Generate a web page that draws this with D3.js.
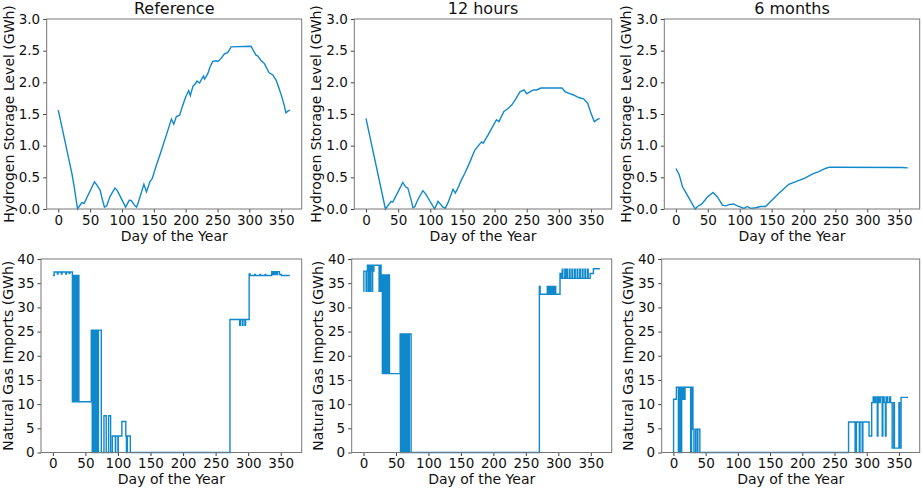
<!DOCTYPE html>
<html lang="en">
<head>
  <meta charset="UTF-8">
  <title>Hydrogen storage and natural gas imports</title>
  <script src="https://d3js.org/d3.v7.min.js"></script>
  <style>
    body { margin: 0; background: #fff; }
    svg { display: block; font-family: "DejaVu Sans", sans-serif; }
    .tick text { font-family: "DejaVu Sans", sans-serif; font-size: 13.5px; fill: #111; }
    .tick line { stroke: #444; }
    .domain { display: none; }
    .frame { fill: none; stroke: #777; stroke-width: 1; }
    .series { fill: none; stroke: #1088cc; stroke-width: 1.4; }
    .lbl { font-size: 14px; fill: #111; }
    .ttl { font-size: 16px; fill: #111; }
  </style>
</head>
<body>
<div id="chart"></div>
<script>
  let width = 923;
  let height = 489;

  let titles = ["Reference", "12 hours", "6 months"];
  let xTicks = [0, 50, 100, 150, 200, 250, 300, 350];
  let h2Ticks = [0, 0.5, 1, 1.5, 2, 2.5, 3];
  let gasTicks = [0, 5, 10, 15, 20, 25, 30, 35, 40];

  // hydrogen storage level (GWh) by day
  let refH2Days = [0, 13.5, 21.4, 25, 30.2, 37, 40.6, 56.8, 60.4, 65.6, 68.2, 72.4, 76, 81.3, 89, 92.7, 105.7, 111.5, 115, 120.3, 123,
    125.5, 134.4, 138.5, 143.8, 147.4, 154, 159.4, 169.8, 177.6, 181.3, 185.4, 190.6, 194.8, 200, 204.7, 207.3, 211.5, 215.6, 217.7,
    221.9, 224.5, 228, 229.7, 234.9, 238.5, 242.7, 247.9, 250.5, 255.7, 261, 266, 271.4, 302.6, 310.4, 313, 318, 323.4, 331, 336.5,
    341.7, 345.8, 351, 354.7, 357.3, 361, 363.5];
  let refH2Vals = [1.56, 0.93, 0.56, 0.35, 0, 0.1, 0.09, 0.43, 0.38, 0.3, 0.19, 0.03, 0.05, 0.2, 0.33, 0.29, 0.03, 0.14, 0.13, 0.05, 0.03,
    0.1, 0.39, 0.27, 0.43, 0.48, 0.69, 0.85, 1.17, 1.42, 1.34, 1.46, 1.48, 1.62, 1.77, 1.87, 1.79, 1.94, 1.98, 2.02,
    1.99, 2.04, 2.1, 2.05, 2.14, 2.25, 2.33, 2.34, 2.33, 2.38, 2.45, 2.47, 2.56, 2.57, 2.43, 2.42, 2.35, 2.3, 2.15, 2.12,
    2.04, 1.93, 1.77, 1.64, 1.52, 1.55, 1.56];

  let h12H2Days = [0, 30.2, 33.9, 39, 41.7, 57.3, 61.5, 65.1, 70.3, 72.9, 76, 80.7, 88.5, 92.7, 106.8, 112, 114.6, 119.8, 123.4, 127.6,
    135.4, 139, 144.3, 148.4, 153.6, 161.5, 169.3, 179.7, 182.3, 190, 195.3, 203, 206.8, 214.6, 221.4, 226.6, 231.8, 239.6, 245.8,
    250, 256.8, 260.4, 265.6, 271.9, 304.7, 310, 315, 323, 330.7, 338.5, 344.8, 350, 355.2, 359.4, 363.5];
  let h12H2Vals = [1.43, 0, 0.05, 0.12, 0.11, 0.42, 0.35, 0.33, 0.14, 0.02, 0.04, 0.15, 0.29, 0.24, 0, 0.12, 0.09, 0.03, 0.01, 0.1,
    0.31, 0.25, 0.36, 0.46, 0.56, 0.74, 0.93, 1.06, 1.04, 1.17, 1.27, 1.41, 1.38, 1.54, 1.59, 1.64, 1.72, 1.85, 1.88,
    1.82, 1.86, 1.88, 1.88, 1.91, 1.91, 1.85, 1.83, 1.8, 1.76, 1.74, 1.67, 1.51, 1.38, 1.41, 1.43];

  let m6H2Days = [0, 5.2, 10.4, 15.6, 23.4, 30.2, 33.9, 40.6, 49.5, 58.3, 65.1, 72.9, 78.1, 83.3, 90.1, 96.4, 106.8, 112, 117.2, 125,
    132.8, 140.6, 148.4, 161.5, 177, 184.9, 195.3, 203, 213.5, 224, 234.4, 240.6, 354, 363.5];
  let m6H2Vals = [0.64, 0.54, 0.35, 0.26, 0.12, 0, 0.04, 0.08, 0.19, 0.26, 0.19, 0.06, 0.05, 0.07, 0.08, 0.05, 0.01, 0.04, 0.01, 0.02,
    0.04, 0.04, 0.12, 0.25, 0.39, 0.42, 0.46, 0.49, 0.55, 0.59, 0.64, 0.66, 0.655, 0.65];

  // natural gas imports (GWh), each value holds until the next day listed
  let refGasDays = [0, 2, 7, 8, 13, 14, 20, 21, 25, 26, 30, 31, 33, 35, 37, 38, 40,
    59, 60.5, 62, 63, 65, 66, 67.5, 69, 70, 74.4,
    78.5, 82, 85.6, 88.7, 91.3, 96, 96.5, 100, 100.5, 106, 112, 113, 114.4, 119,
    272, 287, 288, 291, 292, 295, 296, 301.5, 303, 310, 311, 318, 319, 326, 327,
    336, 338, 339, 341, 342, 344, 345, 348, 351, 364];
  let refGasVals = [36.6, 37.3, 36.9, 37.3, 36.9, 37.3, 36.9, 37.3, 37.0, 37.3, 10.5, 36.6, 10.5, 36.6, 10.5, 36.6, 10.5,
    25.3, 0, 25.3, 0, 25.3, 0, 25.3, 0, 25.3, 0,
    7.6, 0, 7.6, 0, 3.4, 0, 3.4, 0, 3.4, 6.4, 3.4, 0, 3.4, 0,
    27.5, 26.3, 27.5, 26.3, 27.5, 26.3, 27.5, 36.9, 36.6, 36.8, 36.6, 36.8, 36.6, 36.8, 36.6,
    37.4, 36.8, 37.4, 36.8, 37.4, 36.8, 37.4, 36.8, 36.6, 36.6];

  let h12GasDays = [0, 0.5, 4, 4.5, 6, 7, 8, 10, 10.5, 12, 13, 14, 15, 16, 24, 25, 27, 28, 29, 30, 31, 32, 33, 35, 36, 37, 38, 39, 40,
    56.4, 57, 58, 59, 60, 61, 62, 63, 64, 65, 66, 67, 68, 70, 70.5, 73.3,
    270.8, 272, 283, 284, 286, 287, 289, 290, 292, 293, 295, 296,
    302.6, 304, 306, 307, 310, 311, 313, 314, 317, 318, 321, 322, 325, 326, 329, 330, 333, 334, 337, 338, 341, 342, 345, 346,
    349, 354, 364];
  let h12GasVals = [33.3, 37.5, 33.3, 37.5, 38.7, 33.3, 38.7, 33.3, 37.5, 38.7, 33.3, 38.7, 37.5, 38.7, 33.3, 38.7, 33.3, 36.7, 16.3, 36.7, 16.3, 36.7, 16.3, 36.7, 16.3, 36.7, 16.3, 36.7, 16.3,
    24.5, 0, 24.5, 0, 24.5, 0, 24.5, 0, 24.5, 0, 24.5, 0, 24.5, 0, 24.5, 0,
    34.3, 32.7, 34.3, 32.7, 34.3, 32.7, 34.3, 32.7, 34.3, 32.7, 34.3, 32.7,
    37.0, 36.0, 37.9, 36.0, 37.9, 36.0, 37.9, 36.0, 37.9, 36.0, 37.9, 36.0, 37.9, 36.0, 37.9, 36.0, 37.9, 36.0, 37.9, 36.0, 37.9, 36.0, 37.9, 36.0,
    37.0, 38.0, 38.0];

  let m6GasDays = [0, 0.2, 4.6, 7.7, 9.7, 11.3, 12.8, 13.8, 15.4, 16.4, 18, 26.7, 28.2, 30.3, 31.8, 34.4, 36.9, 37.9, 41,
    271.8, 282, 284, 288.5, 289.5, 293, 294, 303.6, 307.7, 310, 312, 314, 316.4, 317.4, 319, 321, 324, 325, 327, 329, 330,
    332, 335, 337, 339.5, 342, 343, 350, 351, 353.3, 364];
  let m6GasVals = [0, 11.0, 13.5, 0, 13.5, 0, 13.5, 11, 13.5, 11, 13.5, 0, 13.5, 4.8, 0, 4.8, 0, 4.8, 0,
    6.3, 0, 6.3, 0, 6.3, 0, 6.3, 3.4, 10.3, 11.5, 10.3, 11.5, 3.4, 11.5, 10.3, 11.5, 3.4, 11.5, 10.3, 3.4, 11.5,
    10.3, 11.5, 10.3, 0.9, 10.3, 0.9, 10.3, 0.9, 11.4, 11.4];

  // panel boxes, left/right/top/bottom in px
  let panels = [
    { l: 46.7, r: 301.7, t: 19, b: 209, days: refH2Days, vals: refH2Vals, gas: false, title: titles[0] },
    { l: 354.3, r: 611.7, t: 19, b: 209, days: h12H2Days, vals: h12H2Vals, gas: false, title: titles[1] },
    { l: 664.3, r: 919.7, t: 19, b: 209, days: m6H2Days, vals: m6H2Vals, gas: false, title: titles[2] },
    { l: 41, r: 301.7, t: 259, b: 452.5, days: refGasDays, vals: refGasVals, gas: true },
    { l: 351.7, r: 611.7, t: 259, b: 452.5, days: h12GasDays, vals: h12GasVals, gas: true },
    { l: 661.7, r: 919.7, t: 259, b: 452.5, days: m6GasDays, vals: m6GasVals, gas: true }
  ];

  let svg = d3.select("#chart")
          .append("svg")
          .attr("width", width)
          .attr("height", height);

  panels.forEach(function (p) {
    let x = d3.scaleLinear().domain([-18.2, 382.2]).range([p.l, p.r]);
    let y = d3.scaleLinear().domain(p.gas ? [0, 40] : [0, 3]).range([p.b, p.t]);

    let g = svg.append("g");

    g.append("g")
            .attr("transform", `translate(0,${p.b})`)
            .call(d3.axisBottom(x).tickValues(xTicks).tickSize(3.5).tickPadding(2.5));

    g.append("g")
            .attr("transform", `translate(${p.l},0)`)
            .call(d3.axisLeft(y)
                    .tickValues(p.gas ? gasTicks : h2Ticks)
                    .tickFormat(p.gas ? d3.format("d") : d3.format(".1f"))
                    .tickSize(3.5).tickPadding(3));

    let line = d3.line()
            .x(d => x(d[0]))
            .y(d => y(d[1]))
            .curve(p.gas ? d3.curveStepAfter : d3.curveLinear);

    g.append("path")
            .datum(d3.zip(p.days, p.vals))
            .attr("class", "series")
            .attr("d", line);

    g.append("rect")
            .attr("class", "frame")
            .attr("x", p.l).attr("y", p.t)
            .attr("width", p.r - p.l).attr("height", p.b - p.t);

    g.append("text")
            .attr("class", "lbl")
            .attr("x", (p.l + p.r) / 2)
            .attr("y", p.b + 31.5)
            .attr("text-anchor", "middle")
            .text("Day of the Year");

    let yl = p.gas ? p.l - 28.5 : p.l - 33;
    g.append("text")
            .attr("class", "lbl")
            .attr("transform", `translate(${yl},${(p.t + p.b) / 2}) rotate(-90)`)
            .attr("text-anchor", "middle")
            .text(p.gas ? "Natural Gas Imports (GWh)" : "Hydrogen Storage Level (GWh)");

    if (p.title) {
      g.append("text")
              .attr("class", "ttl")
              .attr("x", (p.l + p.r) / 2)
              .attr("y", 14)
              .attr("text-anchor", "middle")
              .text(p.title);
    }
  });
</script>
</body>
</html>
